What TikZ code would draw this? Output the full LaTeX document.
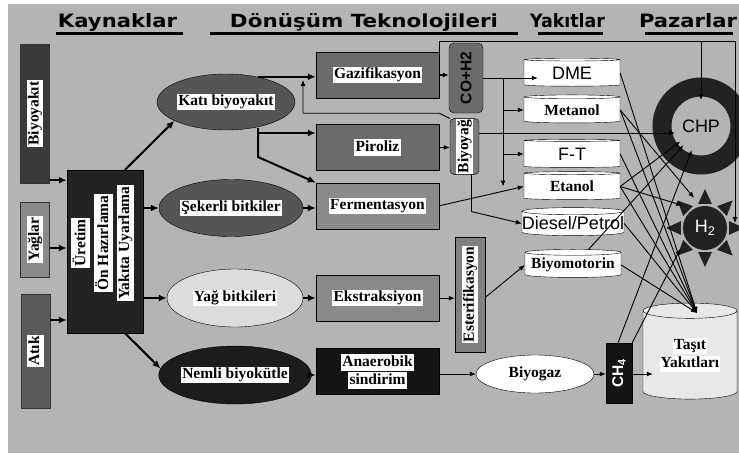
\documentclass[tikz,border=0pt]{standalone}
\usepackage{graphicx}
\usepackage{fontspec}
\setmainfont{Liberation Serif}
\setsansfont{Liberation Sans}
\newfontfamily\headfont{DejaVu Sans}
\usetikzlibrary{positioning,shapes.geometric,arrows.meta}

\definecolor{bggray}{HTML}{B4B4B4}
\definecolor{srcA}{HTML}{3A3A3A}
\definecolor{srcB}{HTML}{8A8A8A}
\definecolor{srcC}{HTML}{5A5A5A}
\definecolor{prepcol}{HTML}{232323}
\definecolor{ellA}{HTML}{555555}
\definecolor{ellB}{HTML}{DCDCDC}
\definecolor{ellC}{HTML}{1C1C1C}
\definecolor{procA}{HTML}{6B6B6B}
\definecolor{procB}{HTML}{8A8A8A}
\definecolor{oilcol}{HTML}{7A7A7A}
\definecolor{estcol}{HTML}{808080}
\definecolor{darkcol}{HTML}{141414}
\definecolor{ringcol}{HTML}{222222}
\definecolor{tasitcol}{HTML}{E8E8E8}

\newcommand{\wlab}[1]{{\setlength{\fboxsep}{1.2pt}\colorbox{white}{\rule[-.22em]{0pt}{.9em}#1}}}
\newcommand{\hdg}[2]{\resizebox{#1}{14pt}{\headfont\bfseries #2}}

\begin{document}
\begin{tikzpicture}[x=1pt, y=-1pt,
  font=\fontsize{15.5}{18}\selectfont\bfseries,
  srcbox/.style={draw=black!80, minimum width=29, inner sep=0},
  ell/.style={ellipse, draw, inner sep=0},
  proc/.style={draw, minimum width=123, minimum height=46, inner sep=0},
  tall/.style={draw, inner sep=0},
  fuel/.style={cylinder, shape border rotate=90, draw, aspect=0.07,
    cylinder uses custom fill, cylinder body fill=white, cylinder end fill=white,
    minimum width=96, minimum height=28, inner sep=0},
  sans/.style={font=\sffamily\fontsize{18}{20}\selectfont},
  arr/.style={-{Latex[length=8pt,width=7pt]}, line width=2pt},
  marr/.style={-{Latex[length=6pt,width=5pt]}, line width=1.3pt},
  tarr/.style={-{Latex[length=6pt,width=5pt]}, line width=0.9pt},
  uline/.style={line width=3pt}
]
\useasboundingbox (0,0) rectangle (739,453);
\fill[bggray] (8,4) rectangle (739,453);

% headings
\node[anchor=base, inner sep=0] (hKay) at (117.5,27) {\hdg{119pt}{Kaynaklar}};
\node[anchor=base, inner sep=0] (hDon) at (364,27) {\hdg{268pt}{Dönüşüm Teknolojileri}};
\node[anchor=base, inner sep=0] (hYak) at (567.5,27) {\hdg{75pt}{Yakıtlar}};
\node[anchor=base, inner sep=0] (hPaz) at (688,27) {\hdg{98pt}{Pazarlar}};
\draw[uline] (56,33) -- (183,33);
\draw[uline] (210,33) -- (518,33);
\draw[uline] (538,33) -- (603,33);
\draw[uline] (645,33) -- (733,33);

% sources
\node[srcbox, fill=srcA, minimum height=139] (biyo) at (35,113.5) {\rotatebox{90}{\wlab{Biyoyakıt}}};
\node[srcbox, fill=srcB, minimum height=75] (yag) at (35,239.5) {\rotatebox{90}{\wlab{Yağlar}}};
\node[srcbox, fill=srcC, minimum height=114] (atik) at (35.5,351) {\rotatebox{90}{\wlab{Atık}}};

\node[tall, fill=prepcol, minimum width=76, minimum height=163] (prep) at (105,251.5) {};
\node[rotate=90, align=center, inner sep=0] (prepLbl) at (102.5,243)
  {\wlab{Üretim}\\[3pt]\wlab{Ön Hazırlama}\\[3pt]\wlab{Yakıta Uyarlama}};

% feedstocks
\node[ell, fill=ellA, minimum width=137, minimum height=56] (kati) at (226,102) {\wlab{Katı biyoyakıt}};
\node[ell, fill=ellA, minimum width=128, minimum height=57] (seker) at (231,208) {\wlab{Şekerli bitkiler}};
\node[ell, fill=ellB, minimum width=136, minimum height=58] (yagbit) at (235,298) {\wlab{Yağ bitkileri}};
\node[ell, fill=ellC, minimum width=136, minimum height=58] (nemli) at (235,375) {\wlab{Nemli biyokütle}};

% conversion
\node[proc, fill=procA] (gaz) at (377.5,75) {\wlab{Gazifikasyon}};
\node[proc, fill=procA, below=26pt of gaz] (piroliz) {\wlab{Piroliz}};
\node[proc, fill=procB, below=12pt of piroliz] (ferm) {\wlab{Fermentasyon}};
\node[proc, fill=procB, below=46pt of ferm] (ekstr) {\wlab{Ekstraksiyon}};
\node[proc, fill=darkcol, below=27pt of ekstr, align=center] (anaer) {\wlab{Anaerobik}\\\wlab{sindirim}};

\node[tall, fill=procA, rounded corners=5pt, minimum width=34, minimum height=70] (coh) at (466,78)
  {\rotatebox{90}{\sffamily\fontsize{15.5}{17}\selectfont CO+H2}};
\node[tall, fill=oilcol, rounded corners=4pt, minimum width=29, minimum height=53] (biyoyag) at (464.5,146.5)
  {\rotatebox{90}{\wlab{Biyoyağ}}};
\node[tall, fill=estcol, minimum width=30, minimum height=115] (ester) at (470,294.5)
  {\rotatebox{90}{\wlab{Esterifikasyon}}};

% fuels
\node[fuel, sans] (dme) at (572,73) {DME};
\node[fuel] (metanol) at (572,110) {Metanol};
\node[fuel, sans] (ft) at (572,154) {F-T};
\node[fuel] (etanol) at (572,186.5) {Etanol};
\node[fuel, sans] (diesel) at (573,223.5) {Diesel/Petrol};
\node[fuel] (biyomotorin) at (573,265) {Biyomotorin};

\node[ell, fill=white, minimum width=118, minimum height=38] (biyogaz) at (535,374) {Biyogaz};
\node[tall, fill=darkcol, minimum width=26, minimum height=60] (ch4) at (619,373)
  {\rotatebox{90}{\color{white}\sffamily\fontsize{15.5}{17}\selectfont CH\textsubscript{4}}};

% markets
\node[circle, draw=ringcol, line width=19pt, minimum size=78, inner sep=0, outer sep=-13pt,
  font=\sffamily\fontsize{18}{20}\selectfont] (chp) at (701,126) {CHP};
\foreach \a in {0,45,...,315}
  \fill[ringcol] ([shift={(\a:39)}]705,228) -- ([shift={(\a+16:25)}]705,228) -- ([shift={(\a-16:25)}]705,228) -- cycle;
\node[circle, fill=ringcol, minimum size=44, inner sep=0, outer sep=10pt, text=white,
  font=\sffamily\fontsize{18}{20}\selectfont] (h2) at (705,228) {H\textsubscript{2}};
\node[fuel, aspect=0.25, cylinder body fill=tasitcol, cylinder end fill=tasitcol,
  minimum width=94, minimum height=96, align=center] (tasit) at (690,355) {\wlab{Taşıt}\\\wlab{Yakıtları}};

% sources -> prep
\coordinate (bOut) at ([yshift=3pt]biyo.south east);
\coordinate (yOut) at ([yshift=-8.5pt]yag.east);
\coordinate (aOut) at ([yshift=31pt]atik.east);
\draw[arr] (bOut) -- (bOut -| prep.west);
\draw[arr] (yOut) -- (yOut -| prep.west);
\draw[arr] (aOut) -- (aOut -| prep.west);

% prep -> feedstocks
\draw[arr] ([xshift=20pt]prep.north) -- (kati.200);
\draw[arr] (prep.east |- seker) -- (seker.west);
\draw[arr] (prep.east |- yagbit) -- (yagbit.west);
\draw[arr] ([xshift=20pt]prep.south) -- (nemli.175);

% feedstocks -> conversion
\coordinate (kGaz) at ([xshift=32pt,yshift=-3pt]kati.north);
\coordinate (kPir) at (258,133);
\coordinate (gBack) at (303,80);
\draw[arr] (kGaz) -- (kGaz -| gaz.west);
\draw[arr] ([yshift=5pt]kPir) -- (kPir) -- (kPir -| piroliz.west);
\draw[arr] (kPir) -- ++(0,24) -- (ferm.north west);
\draw[arr] (seker.east) -- (seker.east -| ferm.west);
\draw[arr] (yagbit.east) -- (yagbit.east -| ekstr.west);
\draw[arr] (nemli.east) -- (nemli.east -| anaer.west);

% conversion -> intermediates
\draw[marr] (gaz.east) -- (gaz.east -| coh.west);
\draw[marr] (piroliz.east) -- (piroliz.east -| biyoyag.west);
\draw[marr] (ekstr.east) -- (ekstr.east -| ester.west);
\draw[tarr] (biyoyag.north west) -- ([yshift=-15pt]gaz.south east) -| (gBack);

% intermediates -> fuels
\coordinate (cv) at (503,79);
\coordinate (dmeIn) at ([xshift=14pt]dme.west);
\draw[tarr] (coh.east) -- (dmeIn |- coh.east);
\draw[tarr] (cv) -- (cv |- etanol.west);
\draw[tarr] (cv |- metanol.west) -- (metanol.west);
\draw[tarr] (cv |- ft.west) -- (ft.west);
\draw[tarr] (ferm.east) -- (etanol.west);
\draw[tarr] ([yshift=-3pt]ester.east) -- (biyomotorin.west);
\coordinate (bd) at ([xshift=7pt]biyoyag.south);
\draw[tarr] (bd) -- ++(0,37) -- (diesel.west);
\coordinate (bc) at ([yshift=13.5pt]biyoyag.east);
\draw[tarr] (bc) -- (bc -| chp.west);

% top line
\coordinate (topR) at (735,41);
\coordinate (h2top) at ([yshift=5pt]h2.east);
\draw[tarr] (gaz.north east) |- (topR) -- (topR |- h2top);
\draw[tarr] (topR -| chp.north) -- (chp.north);

% biogas chain
\coordinate (tasIn) at ([xshift=10pt]tasit.west);
\draw[tarr] (anaer.east |- biyogaz) -- (biyogaz.west);
\draw[tarr] (biyogaz.east) -- (ch4.west |- biyogaz);
\draw[tarr] (ch4.east |- biyogaz) -- (tasIn |- biyogaz);

% fuels -> markets
\coordinate (tin) at (697,313);
\foreach \f in {dme,metanol,ft,etanol,diesel,biyomotorin}
  \draw[tarr] (\f.east) -- (tin);
\draw[tarr] (metanol.east) -- (h2.110);
\draw[tarr] (etanol.east) -- (h2.135);
\draw[tarr] (etanol.east) -- (chp);
\draw[tarr] (biyomotorin.north east) -- (chp);
\draw[tarr] ([xshift=-1pt]ch4.north) -- (chp);
\draw[tarr] (ch4.north east) -- (h2.220);

\end{tikzpicture}
\end{document}
